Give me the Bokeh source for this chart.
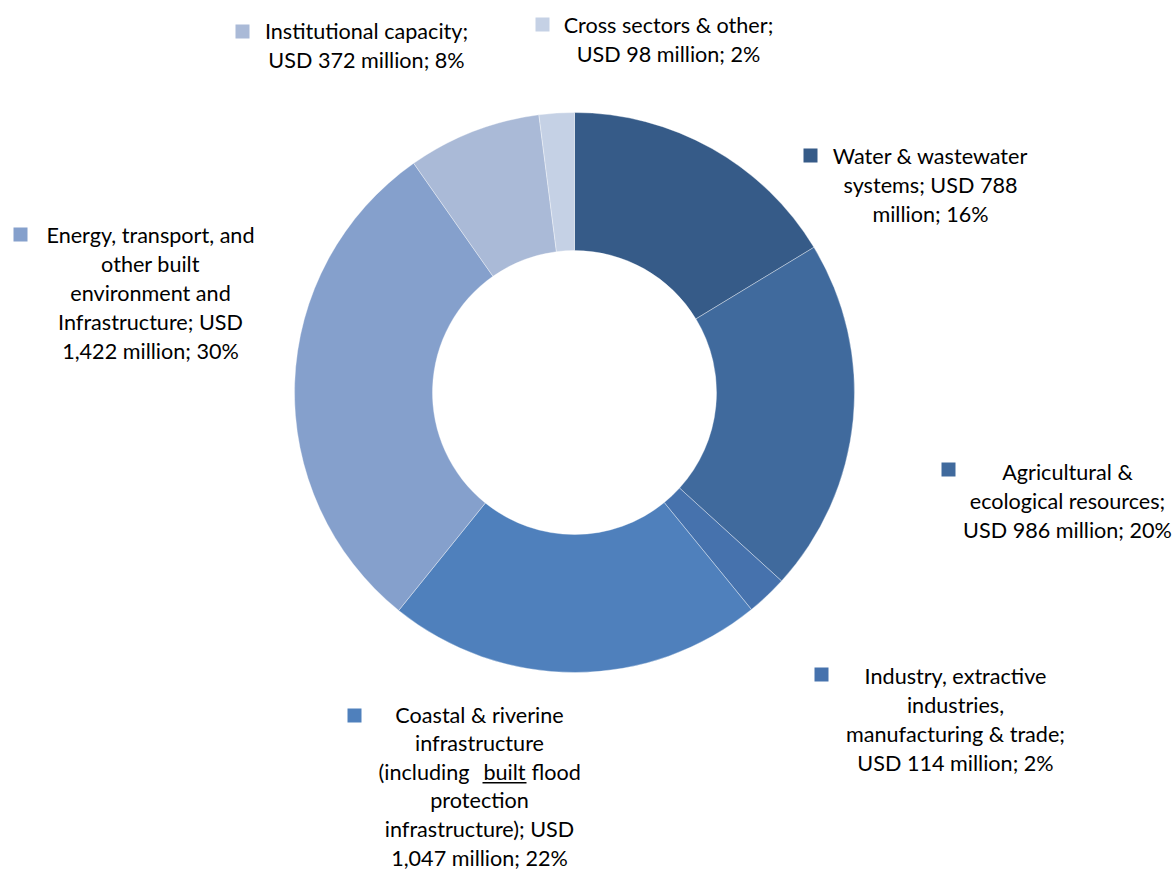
import math
from bokeh.plotting import figure
from bokeh.models import Range1d, ColumnDataSource
from bokeh.core.properties import value
from bokeh.embed import file_html
from bokeh.resources import INLINE

# ---- data ----
categories = [
    "Water & wastewater systems",
    "Agricultural & ecological resources",
    "Industry, extractive industries, manufacturing & trade",
    "Coastal & riverine infrastructure (including built flood protection infrastructure)",
    "Energy, transport, and other built environment and Infrastructure",
    "Institutional capacity",
    "Cross sectors & other",
]
values_musd = [788, 986, 114, 1047, 1422, 372, 98]
percents = [16, 20, 2, 22, 30, 8, 2]
label_lines = [
    ["Water & wastewater", "systems; USD 788", "million; 16%"],
    ["Agricultural &", "ecological resources;", "USD 986 million; 20%"],
    ["Industry, extractive", "industries,", "manufacturing & trade;", "USD 114 million; 2%"],
    ["Coastal & riverine", "infrastructure", ["(including", "built", "flood"], "protection",
     "infrastructure); USD", "1,047 million; 22%"],
    ["Energy, transport, and", "other built", "environment and",
     "Infrastructure; USD", "1,422 million; 30%"],
    ["Institutional capacity;", "USD 372 million; 8%"],
    ["Cross sectors & other;", "USD 98 million; 2%"],
]
colors = ["#365B88", "#406A9D", "#4672AD", "#4F80BC", "#85A0CC", "#AABAD7", "#C5D1E5"]

# ---- layout (page pixel coordinates, y measured from top) ----
W, H = 1176, 873
CX, CY = 574, 392
R_OUT, R_IN = 280, 142
FONT = "Lato"
FSIZE = "21.6px"
# text centre x, first line y, line height, legend square x, legend square y
label_pos = [
    (930, 155, 29, 810, 155),
    (1067, 471, 29, 948, 469),
    (955, 675, 29, 821, 674),
    (479, 714, 28.6, 354, 715),
    (150, 234, 29, 20, 234),
    (366, 30, 29, 242, 31),
    (668, 24, 29, 542, 24),
]
# split line (left piece right edge, underlined word centre, right piece left edge)
SPLIT_X = (469, 504, 531)


def Y(ry):
    return H - ry


p = figure(width=W, height=H, output_backend="svg", toolbar_location=None,
           x_range=Range1d(0, W), y_range=Range1d(0, H),
           min_border=0, outline_line_color=None)
p.axis.visible = False
p.grid.visible = False
p.background_fill_color = "white"
p.border_fill_color = "white"

total = sum(values_musd)
starts, ends = [], []
cum = 0
for v in values_musd:
    starts.append(math.pi / 2 - 2 * math.pi * cum / total)
    cum += v
    ends.append(math.pi / 2 - 2 * math.pi * cum / total)

src = ColumnDataSource(dict(start=starts, end=ends, color=colors))
p.annular_wedge(x=CX, y=Y(CY), inner_radius=R_IN, outer_radius=R_OUT,
                start_angle="start", end_angle="end", direction="clock",
                fill_color="color", line_color="white", line_alpha=0.6,
                line_width=0.6, source=src)

tx, ty, tt, ta = [], [], [], []
sqx, sqy, sqc = [], [], []
ul = []
for lines, (cx, y0, lh, sx, sy), c in zip(label_lines, label_pos, colors):
    for i, ln in enumerate(lines):
        yy = y0 + i * lh
        if isinstance(ln, list):
            for part, xx, al in zip(ln, SPLIT_X, ["right", "center", "left"]):
                tx.append(xx)
                ty.append(Y(yy))
                tt.append(part)
                ta.append(al)
            ul.append(yy + 11)
        else:
            tx.append(cx)
            ty.append(Y(yy))
            tt.append(ln)
            ta.append("center")
    sqx.append(sx)
    sqy.append(Y(sy))
    sqc.append(c)

tsrc = ColumnDataSource(dict(x=tx, y=ty, text=tt, align=ta))
p.text(x="x", y="y", text="text", text_align="align", text_baseline="middle",
       text_font=value(FONT), text_font_size=FSIZE, text_color="#000000", source=tsrc)
p.scatter(x=sqx, y=sqy, marker="square", size=14, fill_color=sqc, line_color=None)

# underline of the word "built"
for uy in ul:
    p.segment(x0=[SPLIT_X[1] - 22], y0=[Y(uy)], x1=[SPLIT_X[1] + 22], y1=[Y(uy)],
              line_color="#000000", line_width=1.5)

open("out.html", "w").write(file_html(p, INLINE))
